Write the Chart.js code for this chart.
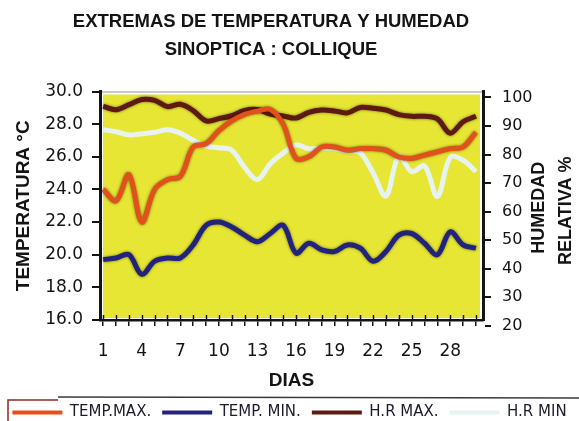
<!DOCTYPE html>
<html>
<head>
<meta charset="utf-8">
<script src="https://cdn.jsdelivr.net/npm/chart.js@4.4.1/dist/chart.umd.min.js"></script>
<style>
    html, body { margin: 0; padding: 0; background: #fff; }
    #wrap { width: 579px; height: 421px; }
</style>
</head>
<body>
<div id="wrap"><canvas id="chart" width="579" height="421"></canvas></div>
<script>
// days of the month
const days = [1, 2, 3, 4, 5, 6, 7, 8, 9, 10, 11, 12, 13, 14, 15, 16, 17, 18, 19, 20, 21, 22, 23, 24, 25, 26, 27, 28, 29, 30];
const labeledDays = [1, 4, 7, 10, 13, 16, 19, 22, 25, 28];

// temperature (°C, left axis)
const tempMax = [24.0, 23.3, 24.9, 22.0, 24.0, 24.6, 24.8, 26.6, 26.8, 27.6, 28.2, 28.6, 28.8, 28.9, 28.0,
                 25.9, 26.0, 26.6, 26.6, 26.4, 26.5, 26.5, 26.4, 26.0, 25.9, 26.1, 26.3, 26.5, 26.6, 27.5];
const tempMin = [19.7, 19.8, 20.0, 18.8, 19.6, 19.8, 19.8, 20.6, 21.8, 22.0, 21.7, 21.2, 20.8, 21.3, 21.8,
                 20.1, 20.7, 20.3, 20.2, 20.6, 20.4, 19.6, 20.2, 21.2, 21.3, 20.7, 20.0, 21.4, 20.6, 20.4];

// relative humidity (%, right axis)
const hrMax = [96.9, 95.7, 97.5, 99.3, 99.0, 96.8, 97.6, 95.4, 91.8, 92.6, 93.6, 95.5, 95.8, 94.2, 93.5,
               92.8, 94.8, 95.6, 95.3, 94.6, 96.5, 96.2, 95.6, 94.0, 93.4, 93.4, 92.5, 87.5, 91.5, 93.4];
const hrMin = [88.7, 88.0, 86.9, 87.3, 87.8, 88.7, 87.5, 85.0, 83.0, 82.4, 81.5, 75.5, 71.2, 76.8, 80.5,
               83.4, 82.0, 82.3, 82.0, 81.2, 80.6, 73.5, 65.5, 79.5, 74.0, 76.0, 65.3, 79.0, 78.0, 74.0];

const tempTicks = [16, 18, 20, 22, 24, 26, 28, 30];
const humTicks = [20, 30, 40, 50, 60, 70, 80, 90, 100];

const SANS = "'DejaVu Sans', sans-serif";
const BOLD = "'Liberation Sans', Arial, sans-serif";
const INK = "#141414";

const plotBackground = {
    id: "plotBackground",
    beforeDraw(chart) {
        const { ctx, chartArea: a } = chart;
        ctx.save();
        ctx.fillStyle = "rgb(231,230,52)";
        ctx.fillRect(a.left + 3, a.top + 3, a.right - a.left - 6, a.bottom - a.top - 5);
        ctx.strokeStyle = "#b8b8b8";
        ctx.lineWidth = 1.5;
        ctx.beginPath();
        ctx.moveTo(a.left, a.top + 0.5);
        ctx.lineTo(a.right, a.top + 0.5);
        ctx.stroke();
        ctx.restore();
    }
};

const lineShadow = {
    id: "lineShadow",
    beforeDatasetDraw(chart, args) {
        if (args.index === 3) return;
        const ctx = chart.ctx;
        ctx.save();
        ctx.shadowColor = "rgba(0,0,0,0.55)";
        ctx.shadowBlur = 3;
    },
    afterDatasetDraw(chart, args) {
        if (args.index === 3) return;
        chart.ctx.restore();
    }
};

const extras = {
    id: "extras",
    afterLayout(chart) {
        // the printed title sits a bit left of the page centre
        if (chart.titleBlock) chart.titleBlock.right -= 37;
    },
    afterDraw(chart) {
        const { ctx, chartArea: a } = chart;
        const x = chart.scales.x;

        // day ticks cross the axis line (inner half)
        ctx.save();
        ctx.strokeStyle = INK;
        ctx.lineWidth = 1.5;
        ctx.beginPath();
        days.forEach(d => {
            const px = Math.round(x.getPixelForValue(d)) + 0.5;
            ctx.moveTo(px, a.bottom);
            ctx.lineTo(px, a.bottom - 5);
        });
        ctx.stroke();
        ctx.restore();

        // right axis title, read bottom to top
        ctx.save();
        ctx.fillStyle = INK;
        ctx.font = "bold 18px " + BOLD;
        ctx.textAlign = "center";
        ctx.textBaseline = "middle";
        ctx.translate(a.right + 56, (a.top + a.bottom) / 2 + 2);
        ctx.rotate(-Math.PI / 2);
        ctx.fillText("HUMEDAD", 0, 0);
        ctx.fillText("RELATIVA %", -3, 27);
        ctx.restore();

        // frame around the legend
        ctx.save();
        ctx.strokeStyle = "#3a3a3a";
        ctx.lineWidth = 1.5;
        ctx.beginPath();
        ctx.moveTo(58, 397);
        ctx.lineTo(579, 398);
        ctx.stroke();
        ctx.strokeStyle = "#8a2a22";
        ctx.beginPath();
        ctx.moveTo(8, 421);
        ctx.lineTo(8, 400);
        ctx.lineTo(58, 400);
        ctx.stroke();
        ctx.restore();
    }
};

function series(label, values, color, axis) {
    return {
        label: label,
        data: values,
        yAxisID: axis,
        borderColor: color,
        backgroundColor: color,
        borderWidth: 5,
        pointRadius: 0,
        tension: 0.35,
        fill: false
    };
}

new Chart(document.getElementById("chart"), {
    type: "line",
    data: {
        labels: days,
        datasets: [
            series("TEMP.MAX.", tempMax, "#e4501c", "y"),
            series("TEMP. MIN.", tempMin, "#22237c", "y"),
            series("H.R MAX.", hrMax, "#5e1a12", "y1"),
            series("H.R MIN", hrMin, "#e6f3f1", "y1")
        ]
    },
    options: {
        responsive: false,
        animation: false,
        layout: { padding: 0 },
        plugins: {
            title: {
                display: true,
                text: ["EXTREMAS DE TEMPERATURA Y HUMEDAD", "SINOPTICA : COLLIQUE"],
                color: INK,
                font: { family: BOLD, size: 18.5, weight: "bold", lineHeight: 1.5 },
                padding: { top: 8, bottom: 28 }
            },
            legend: {
                position: "bottom",
                maxHeight: 27,
                labels: {
                    color: "#1c1c2c",
                    font: { family: SANS, size: 15 },
                    boxWidth: 50,
                    boxHeight: 4,
                    padding: 11,
                    generateLabels(chart) {
                        return Chart.defaults.plugins.legend.labels.generateLabels(chart).map(item => {
                            item.fillStyle = item.strokeStyle;
                            item.lineWidth = 0;
                            return item;
                        });
                    }
                }
            },
            tooltip: { enabled: false }
        },
        scales: {
            x: {
                type: "linear",
                min: 0.75,
                max: 30.55,
                afterBuildTicks(scale) {
                    scale.ticks = days.map(v => ({ value: v }));
                },
                afterFit(scale) { scale.height = 74; },
                ticks: {
                    autoSkip: false,
                    maxRotation: 0,
                    color: INK,
                    font: { family: SANS, size: 17 },
                    padding: 15,
                    callback: v => labeledDays.includes(v) ? String(v) : ""
                },
                grid: { drawOnChartArea: false, color: INK, lineWidth: 1.5, tickLength: 6 },
                border: { color: INK, width: 2.5 },
                title: {
                    display: true,
                    text: "DIAS",
                    color: INK,
                    font: { family: BOLD, size: 19, weight: "bold" },
                    padding: { top: 0, bottom: 2 }
                }
            },
            y: {
                position: "left",
                min: 16,
                max: 30,
                afterBuildTicks(scale) {
                    scale.ticks = tempTicks.map(v => ({ value: v }));
                },
                afterFit(scale) { scale.width = 100; },
                ticks: {
                    color: INK,
                    font: { family: SANS, size: 17 },
                    padding: 9,
                    callback: v => v.toFixed(1)
                },
                grid: { drawOnChartArea: false, color: INK, lineWidth: 2, tickLength: 8 },
                border: { color: INK, width: 3 },
                title: {
                    display: true,
                    text: "TEMPERATURA °C",
                    color: INK,
                    font: { family: BOLD, size: 19, weight: "bold" },
                    padding: { top: 12, bottom: 0 }
                }
            },
            y1: {
                position: "right",
                min: 22,
                max: 102.1,
                afterBuildTicks(scale) {
                    scale.ticks = humTicks.map(v => ({ value: v }));
                },
                afterFit(scale) { scale.width = 96; },
                ticks: {
                    color: INK,
                    font: { family: SANS, size: 16 },
                    padding: 11,
                    callback: v => String(v)
                },
                grid: { drawOnChartArea: false, color: INK, lineWidth: 2, tickLength: 8 },
                border: { color: INK, width: 3 }
            }
        }
    },
    plugins: [plotBackground, lineShadow, extras]
});
</script>
</body>
</html>
